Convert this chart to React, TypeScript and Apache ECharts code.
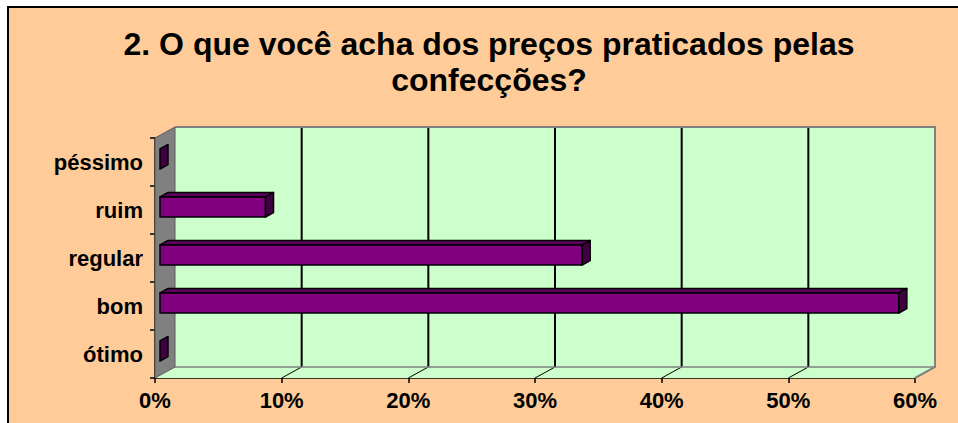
import React, { useEffect, useRef } from "react";
import * as echarts from "echarts";

const titleLines = ["2. O que você acha dos preços praticados pelas", "confecções?"];
const categories = ["ótimo", "bom", "regular", "ruim", "péssimo"];
const values = [0, 0.5833, 0.3333, 0.0833, 0];
const xMin = 0;
const xMax = 0.6;
const xStep = 0.1;
const gridTicks = [0.1, 0.2, 0.3, 0.4, 0.5];

const DX = 20;
const DY = -11;

export default function App() {
  const ref = useRef<HTMLDivElement>(null);
  useEffect(() => {
    document.body.style.margin = "0";
    const chart = echarts.init(ref.current!, null, { renderer: "svg" });
    const font = "Arial, 'Liberation Sans', sans-serif";
    const option: any = {
      animation: false,
      backgroundColor: "#ffffff",
      graphic: [
        {
          type: "rect",
          z: -10,
          shape: { x: 8, y: 7, width: 960, height: 430 },
          style: { fill: "#FFCC99", stroke: "#000", lineWidth: 2 },
          silent: true,
        },
        {
          type: "text",
          z: 10,
          x: 489,
          y: 26,
          style: {
            text: titleLines.join("\n"),
            font: "bold 32px " + font,
            fill: "#000",
            textAlign: "center",
            lineHeight: 36,
          },
        },
      ],
      grid: { left: 155, top: 138, width: 760, height: 240, containLabel: false },
      xAxis: {
        type: "value",
        min: xMin,
        max: xMax,
        interval: xStep,
        axisLine: { show: true, lineStyle: { color: "#000", width: 1.5 } },
        axisTick: { show: true, length: 5, lineStyle: { color: "#000", width: 1.5 } },
        splitLine: { show: false },
        axisLabel: {
          margin: 11,
          color: "#000",
          fontFamily: font,
          fontWeight: "bold",
          fontSize: 22,
          formatter: (v: number) => Math.round(v * 100) + "%",
        },
      },
      yAxis: {
        type: "category",
        data: categories,
        axisLine: { show: true, lineStyle: { color: "#000", width: 1.5 } },
        axisTick: { show: true, length: 5, lineStyle: { color: "#000", width: 1.5 } },
        axisLabel: {
          margin: 12,
          color: "#000",
          fontFamily: font,
          fontWeight: "bold",
          fontSize: 22,
        },
      },
      series: [
        {
          type: "custom",
          clip: false,
          z: 1,
          silent: true,
          data: [[0, 0]],
          renderItem: (params: any, api: any) => {
            const cs = params.coordSys;
            const x = cs.x, y = cs.y, w = cs.width, h = cs.height;
            const children: any[] = [];
            children.push({
              type: "rect",
              shape: { x: x + DX, y: y + DY, width: w, height: h },
              style: { fill: "#CCFFCC" },
            });
            children.push({
              type: "polygon",
              shape: {
                points: [
                  [x, y + h],
                  [x + DX, y + h + DY],
                  [x + w + DX, y + h + DY],
                  [x + w, y + h],
                ],
              },
              style: { fill: "#CCFFCC" },
            });
            gridTicks.forEach((t) => {
              const px = api.coord([t, 0])[0];
              children.push({
                type: "line",
                shape: { x1: px + DX, y1: y + DY, x2: px + DX, y2: y + h + DY },
                style: { stroke: "#000", lineWidth: 2 },
              });
              children.push({
                type: "line",
                shape: { x1: px, y1: y + h, x2: px + DX, y2: y + h + DY },
                style: { stroke: "#000", lineWidth: 1 },
              });
            });
            children.push({
              type: "polyline",
              shape: {
                points: [
                  [x + DX, y + DY],
                  [x + w + DX, y + DY],
                  [x + w + DX, y + h + DY],
                  [x + w, y + h],
                ],
              },
              style: { stroke: "#808080", lineWidth: 2, fill: "none" },
            });
            children.push({
              type: "line",
              shape: { x1: x + DX, y1: y + h + DY, x2: x + w + DX, y2: y + h + DY },
              style: { stroke: "#808080", lineWidth: 1.5 },
            });
            children.push({
              type: "polygon",
              shape: {
                points: [
                  [x, y],
                  [x + DX, y + DY],
                  [x + DX, y + h + DY],
                  [x, y + h],
                ],
              },
              style: { fill: "#808080", stroke: "#5a5a5a", lineWidth: 1 },
            });
            return { type: "group", children };
          },
        },
        {
          type: "custom",
          clip: false,
          z: 3,
          data: values.map((v, i) => [v, i]),
          encode: { x: 0, y: 1 },
          renderItem: (params: any, api: any) => {
            const v = api.value(0);
            const i = api.value(1);
            const p0 = api.coord([0, i]);
            const p1 = api.coord([v, i]);
            const band = api.size([0, 1])[1];
            const bh = band * 0.42;
            const bdx = 5, bdy = -3;
            const tx = 8, ty = -4.5;
            const x0 = p0[0] + bdx;
            const x1 = p1[0] + bdx;
            const yt = p0[1] + bdy - bh / 2;
            const yb = yt + bh;
            const stroke = { stroke: "#000", lineWidth: 1.5, lineJoin: "round" };
            const children: any[] = [];
            if (x1 - x0 > 0.5) {
              children.push({
                type: "polygon",
                shape: { points: [[x0, yt], [x0 + tx, yt + ty], [x1 + tx, yt + ty], [x1, yt]] },
                style: { fill: "#5E005E", ...stroke },
              });
              children.push({
                type: "rect",
                shape: { x: x0, y: yt, width: x1 - x0, height: bh },
                style: { fill: "#800080", ...stroke },
              });
            }
            children.push({
              type: "polygon",
              shape: { points: [[x1, yt], [x1 + tx, yt + ty], [x1 + tx, yb + ty], [x1, yb]] },
              style: { fill: "#400040", ...stroke },
            });
            return { type: "group", children };
          },
        },
      ],
    };
    chart.setOption(option);
    return () => chart.dispose();
  }, []);
  return <div ref={ref} style={{ width: 958, height: 423 }} />;
}
